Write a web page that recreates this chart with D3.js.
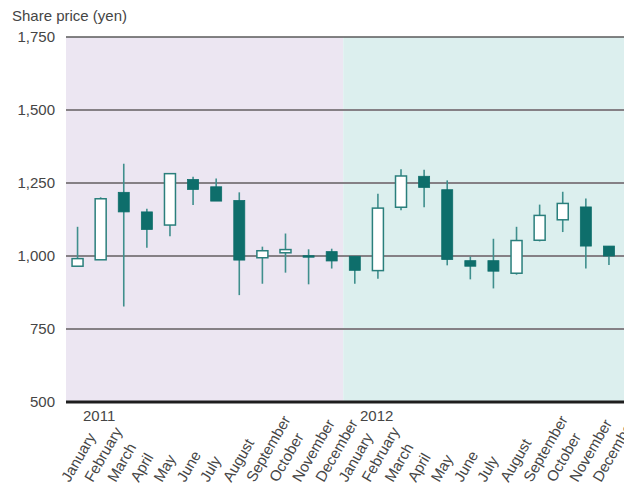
<!DOCTYPE html>
<html><head><meta charset="utf-8">
<script src="https://cdn.jsdelivr.net/npm/d3@7"></script>
<style>body{margin:0;background:#fff}svg{display:block}</style>
</head><body>
<svg id="c" width="624" height="485"></svg>
<script>
const monthNames = ["January","February","March","April","May","June","July","August","September","October","November","December"];
const years = ["2011","2012"];
const openV  = [965, 987,1218,1151,1106,1262,1237,1190, 994,1011,1001,1015,
                999, 950,1167,1273,1227, 984, 984, 941,1054,1124,1168,1034];
const closeV = [991,1196,1151,1091,1282,1228,1188, 986,1018,1022, 996, 983,
                951,1164,1274,1235, 988, 965, 948,1053,1139,1180,1034,1000];
const highV  = [1100,1201,1316,1162,1282,1271,1265,1218,1032,1077,1023,1025,
                 999,1213,1297,1295,1259, 998,1059,1100,1176,1220,1197,1034];
const lowV   = [965, 987, 827,1028,1068,1175,1188, 866, 905, 943, 903, 957,
                905, 922,1157,1167, 968, 920, 889, 936,1050,1082, 957, 969];
const yTicks = [500,750,1000,1250,1500,1750];

const keys = [];
years.forEach(y => monthNames.forEach(m => keys.push(y + "-" + m)));
const data = keys.map((k, i) => ({key: k, month: monthNames[i % 12], year: years[Math.floor(i/12)],
  o: openV[i], c: closeV[i], h: highV[i], l: lowV[i]}));

const svg = d3.select("#c");
const left = 66, right = 624, plotRight = 620.5;
const x = d3.scaleBand().domain(keys).range([left, plotRight]);
const y = d3.scaleLinear().domain([500, 1750]).range([402, 37]);
const font = "'Liberation Sans', Arial, sans-serif";
const textCol = "#454545";

// year backgrounds
const bgColors = {"2011": "#ece6f2", "2012": "#dcefee"};
years.forEach((yr, i) => {
  const x0 = x(yr + "-January");
  const x1 = i === years.length - 1 ? right : x(years[i+1] + "-January");
  svg.append("rect").attr("x", x0).attr("y", y(1750)).attr("width", x1 - x0)
     .attr("height", y(500) - y(1750)).attr("fill", bgColors[yr]);
});

// gridlines
yTicks.filter(t => t > 500).forEach(t => {
  svg.append("line").attr("x1", left).attr("x2", right).attr("y1", y(t)).attr("y2", y(t))
     .attr("stroke", t === 1750 ? "#5a5a5a" : "#858085").attr("stroke-width", t === 1750 ? 1.6 : 1.8);
});

// y tick labels
yTicks.forEach(t => {
  svg.append("text").attr("x", 55).attr("y", y(t)).attr("dy", "0.36em")
     .attr("text-anchor", "end").attr("font-family", font).attr("font-size", 15)
     .attr("fill", textCol).text(d3.format(",")(t));
});

// title
svg.append("text").attr("x", 12).attr("y", 21).attr("font-family", font).attr("font-size", 15)
   .attr("fill", textCol).text("Share price (yen)");

// candles
const bw = 11;
const g = svg.append("g");
data.forEach(d => {
  const cx = x(d.key) + x.bandwidth() / 2;
  g.append("line").attr("x1", cx).attr("x2", cx).attr("y1", y(d.h)).attr("y2", y(d.l))
   .attr("stroke", "#3f8f8d").attr("stroke-width", 1.6);
  const up = d.c >= d.o;
  const top = y(Math.max(d.o, d.c)), bot = y(Math.min(d.o, d.c));
  g.append("rect").attr("x", cx - bw/2).attr("y", top).attr("width", bw)
   .attr("height", Math.max(bot - top, 1.5))
   .attr("fill", up ? "#ffffff" : "#0e6e6b")
   .attr("stroke", up ? "#2a7f7c" : "#0e6e6b").attr("stroke-width", up ? 1.5 : 0.8);
});

// bottom axis line
svg.append("line").attr("x1", left).attr("x2", right).attr("y1", y(500)).attr("y2", y(500))
   .attr("stroke", "#1e1e1e").attr("stroke-width", 3);

// year labels
svg.append("text").attr("x", 83).attr("y", 421).attr("font-family", font).attr("font-size", 15)
   .attr("fill", textCol).text(years[0]);
svg.append("text").attr("x", 360).attr("y", 421).attr("font-family", font).attr("font-size", 15)
   .attr("fill", textCol).text(years[1]);

// month labels
data.forEach(d => {
  const cx = x(d.key) + x.bandwidth() / 2;
  svg.append("text").attr("transform", `translate(${cx - 8},${483}) rotate(-60)`)
     .attr("text-anchor", "start").attr("font-family", font).attr("font-size", 15)
     .attr("fill", textCol).text(d.month);
});
</script>
</body></html>
